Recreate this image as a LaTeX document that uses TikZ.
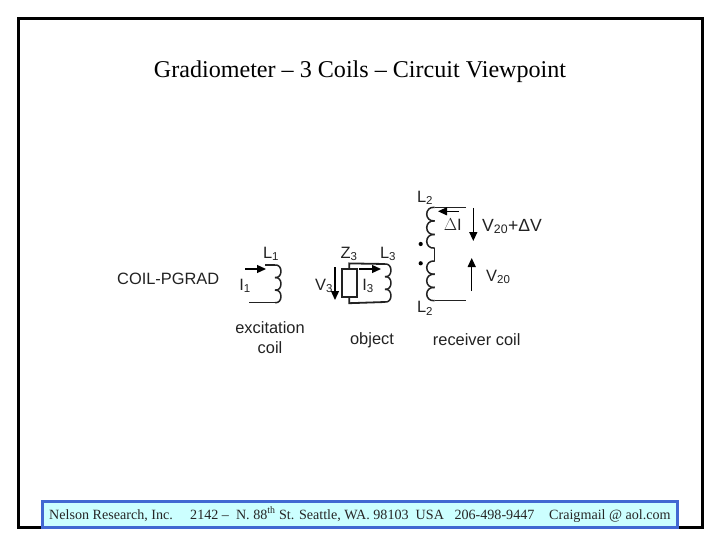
\documentclass[tikz,border=0pt]{standalone}
\usepackage{fontspec}
\setmainfont{Liberation Serif}
\newfontfamily\diagfont{Liberation Sans}
\usetikzlibrary{arrows.meta}
\definecolor{lab}{HTML}{222222}
\definecolor{footfill}{HTML}{CCFFFF}
\definecolor{footblue}{HTML}{4169D2}
\tikzset{
  lbl/.style={font=\diagfont\fontsize{16.4}{18}\selectfont,text=lab,inner sep=0pt},
  foot/.style={font=\fontsize{14.1}{16}\selectfont,text=black!85,inner sep=0pt,anchor=base west},
  wire/.style={line width=1.5pt,draw=lab},
  thickwire/.style={line width=1.8pt,draw=lab},
  arr/.style={line width=1.3pt,draw=black,-{Triangle[length=9pt,width=8pt]}},
  dotmark/.style={circle,fill=black,inner sep=0pt,minimum size=4.2pt}
}
% #1 x, #2 y start, #3 bump height, #4 bulge, #5 last index
\newcommand{\coilbumps}[5]{%
  \foreach \k in {0,...,#5}{%
    \draw[wire] (#1,{#2+\k*#3}) .. controls ({#1+#4*1.33},{#2+\k*#3-1}) and ({#1+#4*1.33},{#2+(\k+1)*#3+1}) .. (#1,{#2+(\k+1)*#3});
  }%
}
\begin{document}
\begin{tikzpicture}[x=1pt,y=-1pt]
\useasboundingbox (0,0) rectangle (720,540);
\fill[white] (0,0) rectangle (720,540);
\draw[line width=3pt,black] (18.5,18.5) rectangle (702.5,527.5);
\node[font=\fontsize{24.1}{26}\selectfont,inner sep=0pt] (title) at (360,72) {Gradiometer – 3 Coils – Circuit Viewpoint};

\node[lbl,anchor=west] (pgrad) at (117,279) {COIL-PGRAD};

% excitation coil
\coordinate (c1t) at (275,265);
\coordinate (c1b) at (275,302.7);
\coordinate (c1tl) at (265,265);
\coordinate (c1bl) at (249,302.7);
\draw[wire] (c1tl) -- (c1t);
\draw[wire] (c1bl) -- (c1b);
\coilbumps{275}{265}{12.57}{6}{2}
\coordinate (i1s) at (245,269);
\coordinate (i1e) at (266,269);
\draw[arr] (i1s) -- (i1e);
\node[lbl] (L1) at (271,254) {L\textsubscript{1}};
\node[lbl] (I1) at (245,286) {I\textsubscript{1}};
\node[lbl] (exc) at (270,328) {excitation};
\node[lbl] (coil) at (270,348) {coil};

% object
\node[draw=lab,line width=1.8pt,minimum width=15pt,minimum height=28pt,inner sep=0pt] (Z) at (349.2,283.3) {};
\coordinate (c3t) at (385,264);
\coordinate (c3b) at (385,302);
\draw[thickwire] (Z.north) -- ++(0,-5) -- (c3t);
\draw[thickwire] (Z.south) -- ++(0,5) -- (c3b);
\coilbumps{385}{264}{12.67}{6}{2}
\coordinate (i3s) at (359,269);
\coordinate (i3e) at (381,269);
\draw[arr] (i3s) -- (i3e);
\coordinate (v3s) at (335,267);
\coordinate (v3e) at (335,300);
\draw[arr] (v3s) -- (v3e);
\node[lbl] (Z3) at (349,254) {Z\textsubscript{3}};
\node[lbl] (L3) at (388,254) {L\textsubscript{3}};
\node[lbl] (V3) at (324,286) {V\textsubscript{3}};
\node[lbl] (I3) at (368,286) {I\textsubscript{3}};
\node[lbl] (obj) at (372,340) {object};

% receiver coil
\coordinate (r1) at (466,207.3);
\coordinate (r2) at (434.7,207.3);
\coordinate (r3) at (434.7,248);
\coordinate (r4) at (434.7,261);
\coordinate (r5) at (434.7,300.7);
\coordinate (r6) at (466,300.7);
\draw[wire] (r1) -- (r2);
\draw[wire] (r3) -- (r4);
\draw[wire] (r5) -- (r6);
\coilbumps{434.7}{207.3}{13.6}{-8}{2}
\coilbumps{434.7}{261}{13.23}{-8}{2}
\node[dotmark] (d1) at (420.7,244) {};
\node[dotmark] (d2) at (420.7,263.3) {};
\coordinate (dis) at (458.5,211.3);
\coordinate (die) at (438,211.3);
\draw[arr] (dis) -- (die);
\coordinate (vds) at (473.3,208);
\coordinate (vde) at (473.3,241);
\draw[arr] (vds) -- (vde);
\coordinate (vus) at (471.7,291);
\coordinate (vue) at (471.7,258);
\draw[arr] (vus) -- (vue);
\node[lbl] (L2a) at (425,198) {L\textsubscript{2}};
\node[lbl] (L2b) at (425,308.5) {L\textsubscript{2}};
\node[lbl] (dI) at (452.7,225) {$\Delta$I};
\node[lbl,anchor=west,font=\diagfont\fontsize{17.6}{19}\selectfont] (V2d) at (482,226.5) {V\textsubscript{20}+ΔV};
\node[lbl,anchor=west] (V20) at (486,277) {V\textsubscript{20}};
\node[lbl] (rc) at (476.7,340) {receiver coil};

% footer
\node[draw=footblue,fill=footfill,line width=3pt,minimum width=635pt,minimum height=26pt,inner sep=0pt] (footer) at (360,514.5) {};
\node[foot] (f1) at (49,519) {Nelson Research, Inc.};
\node[foot] (f2) at (190,519) {2142 – \ N. 88\textsuperscript{th} St. Seattle, WA. 98103 \ USA \ \ 206-498-9447};
\node[foot] (f3) at (549,519) {Craigmail @ aol.com};
\end{tikzpicture}
\end{document}
